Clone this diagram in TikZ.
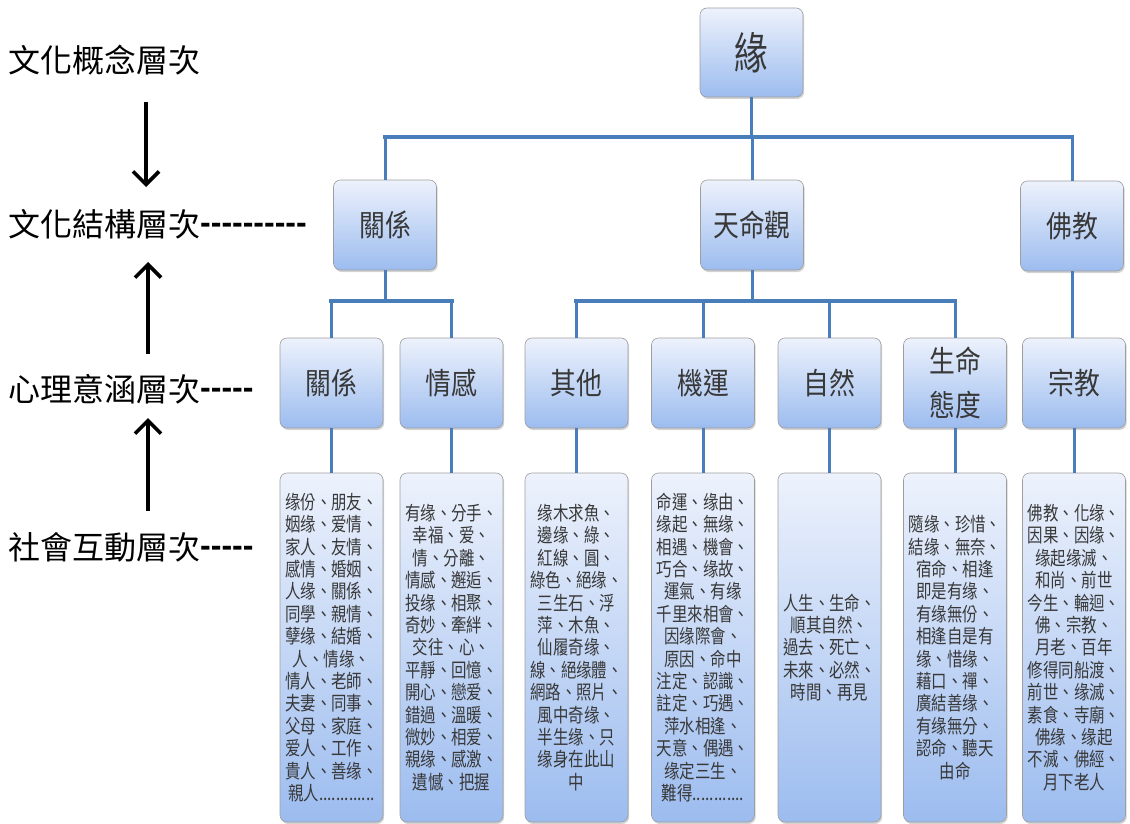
\documentclass[tikz,border=0pt]{standalone}
\usepackage{fontspec}
\usetikzlibrary{shadows,arrows.meta}
\newfontfamily\cjk{Noto Sans CJK TC}
\newfontfamily\cjkn[FakeStretch=0.8]{Noto Sans CJK TC}
\newfontfamily\cjkm[FakeStretch=0.86]{Noto Sans CJK TC}
\newfontfamily\cjkr[FakeStretch=0.76]{Noto Sans CJK TC}
\newfontfamily\dashfont{Liberation Sans}
\newcommand\dd{-\kern0pt}
\definecolor{bxtop}{HTML}{EDF2FC}
\definecolor{bxbot}{HTML}{9CBCEF}
\definecolor{conn}{HTML}{4A7EBB}
\definecolor{txt}{HTML}{383838}
\tikzset{
  box/.style={draw=black!38, line width=0.6pt, rounded corners=7pt,
    top color=bxtop, bottom color=bxbot,
    drop shadow={opacity=0.35, shadow xshift=1.2pt, shadow yshift=-2pt},
    text=txt, inner sep=0pt, align=center},
  midbox/.style={box, minimum width=103pt, minimum height=90pt,
    font=\cjkm\fontsize{30}{44}\selectfont},
  leafbox/.style={box, minimum width=103pt, minimum height=349pt,
    font=\cjkn\fontsize{19.3}{22.4}\selectfont},
  vline/.style={draw=conn, line width=3pt},
  hbar/.style={draw=conn, line width=4.4pt, line cap=rect},
  lvl/.style={anchor=west, inner sep=0pt, text=black,
    font=\cjk\fontsize{32}{38}\selectfont},
  arr/.style={draw=black, line width=3.6pt, -{Straight Barb[length=13pt,width=26pt]}}
}
\begin{document}
\begin{tikzpicture}[x=1pt,y=-1pt]
\useasboundingbox (0,0) rectangle (1130,824);
% level labels
\node[lvl] (c1) at (8,60) {文化概念層次};
\node[lvl] (c2) at (8,224) {文化結構層次{\dashfont\bfseries\raisebox{3pt}{\dd\dd\dd\dd\dd\dd\dd\dd\dd\dd}}};
\node[lvl] (c3) at (8,389) {心理意涵層次{\dashfont\bfseries\raisebox{3pt}{\dd\dd\dd\dd\dd}}};
\node[lvl] (c4) at (8,547) {社會互動層次{\dashfont\bfseries\raisebox{3pt}{\dd\dd\dd\dd\dd}}};
\coordinate (a1s) at (146,102);
\coordinate (a1e) at (146,187);
\coordinate (a2s) at (148,354);
\coordinate (a2e) at (148,262);
\coordinate (a3s) at (148,511);
\coordinate (a3e) at (148,418);
\draw[arr] (a1s) -- (a1e);
\draw[arr] (a2s) -- (a2e);
\draw[arr] (a3s) -- (a3e);
% helper rows
\coordinate (y1) at (0,137);
\coordinate (y2) at (0,301);
% tree nodes
\node[box, minimum width=103pt, minimum height=89pt, font=\cjkr\fontsize{44}{50}\selectfont] (root) at (751.5,52.5) {緣};
\node[midbox] (l2a) at (385,225) {關係};
\node[midbox] (l2b) at (752,225) {天命觀};
\node[midbox] (l2c) at (1072,226) {佛教};
\node[midbox] (l3a) at (331.5,383) {關係};
\node[midbox] (l3b) at (451.5,383) {情感};
\node[midbox] (l3c) at (576.5,383) {其他};
\node[midbox] (l3d) at (703,383) {機運};
\node[midbox] (l3e) at (829.5,383) {自然};
\node[midbox] (l3f) at (955,383) {生命\\態度};
\node[midbox] (l3g) at (1074,383) {宗教};
\node[leafbox] (fa) at (331.5,647.5) {缘份、朋友、\\姻缘、爱情、\\家人、友情、\\感情、婚姻、\\人缘、關係、\\同學、親情、\\孽缘、結婚、\\人、情缘、\\情人、老師、\\夫妻、同事、\\父母、家庭、\\爱人、工作、\\貴人、善缘、\\親人.............};
\node[leafbox] (fb) at (451.5,647.5) {有缘、分手、\\幸福、爱、\\情、分離、\\情感、邂逅、\\投缘、相聚、\\奇妙、牽絆、\\交往、心、\\平靜、回憶、\\開心、戀爱、\\錯過、溫暖、\\微妙、相爱、\\親缘、感激、\\遺憾、把握};
\node[leafbox] (fc) at (576.5,647.5) {缘木求魚、\\邊缘、綠、\\紅線、圓、\\綠色、絕缘、\\三生石、浮\\萍、木魚、\\仙履奇缘、\\線、絕缘體、\\網路、照片、\\風中奇缘、\\半生缘、只\\缘身在此山\\中};
\node[leafbox] (fd) at (703,647.5) {命運、缘由、\\缘起、無缘、\\相遇、機會、\\巧合、缘故、\\運氣、有缘\\千里來相會、\\因缘際會、\\原因、命中\\注定、認識、\\註定、巧遇、\\萍水相逢、\\天意、偶遇、\\缘定三生、\\難得............};
\node[leafbox] (fe) at (829.5,647.5) {人生、生命、\\順其自然、\\過去、死亡、\\未來、必然、\\時間、再見};
\node[leafbox] (ff) at (955,647.5) {隨缘、珍惜、\\結缘、無奈、\\宿命、相逢\\即是有缘、\\有缘無份、\\相逢自是有\\缘、惜缘、\\藉口、禪、\\廣結善缘、\\有缘無分、\\認命、聽天\\由命};
\node[leafbox] (fg) at (1074,647.5) {佛教、化缘、\\因果、因缘、\\缘起缘滅、\\和尚、前世\\今生、輪迴、\\佛、宗教、\\月老、百年\\修得同船渡、\\前世、缘滅、\\素食、寺廟、\\佛缘、缘起\\不滅、佛經、\\月下老人};
% level 1 -> 2
\draw[hbar] (l2a.north |- y1) -- (l2c.north |- y1);
\draw[vline] (root.south) -- (root.south |- y1);
\foreach \n in {l2a,l2b,l2c} \draw[vline] (\n.north |- y1) -- (\n.north);
% level 2 -> 3
\draw[hbar] (l3a.north |- y2) -- (l3b.north |- y2);
\draw[vline] (l2a.south) -- (l2a.south |- y2);
\foreach \n in {l3a,l3b} \draw[vline] (\n.north |- y2) -- (\n.north);
\draw[hbar] (l3c.north |- y2) -- (l3f.north |- y2);
\draw[vline] (l2b.south) -- (l2b.south |- y2);
\foreach \n in {l3c,l3d,l3e,l3f} \draw[vline] (\n.north |- y2) -- (\n.north);
\draw[vline] (l2c.south) -- (l2c.south |- l3g.north);
% level 3 -> leaves
\draw[vline] (l3a.south) -- (fa.north);
\draw[vline] (l3b.south) -- (fb.north);
\draw[vline] (l3c.south) -- (fc.north);
\draw[vline] (l3d.south) -- (fd.north);
\draw[vline] (l3e.south) -- (fe.north);
\draw[vline] (l3f.south) -- (ff.north);
\draw[vline] (l3g.south) -- (fg.north);
\end{tikzpicture}
\end{document}
